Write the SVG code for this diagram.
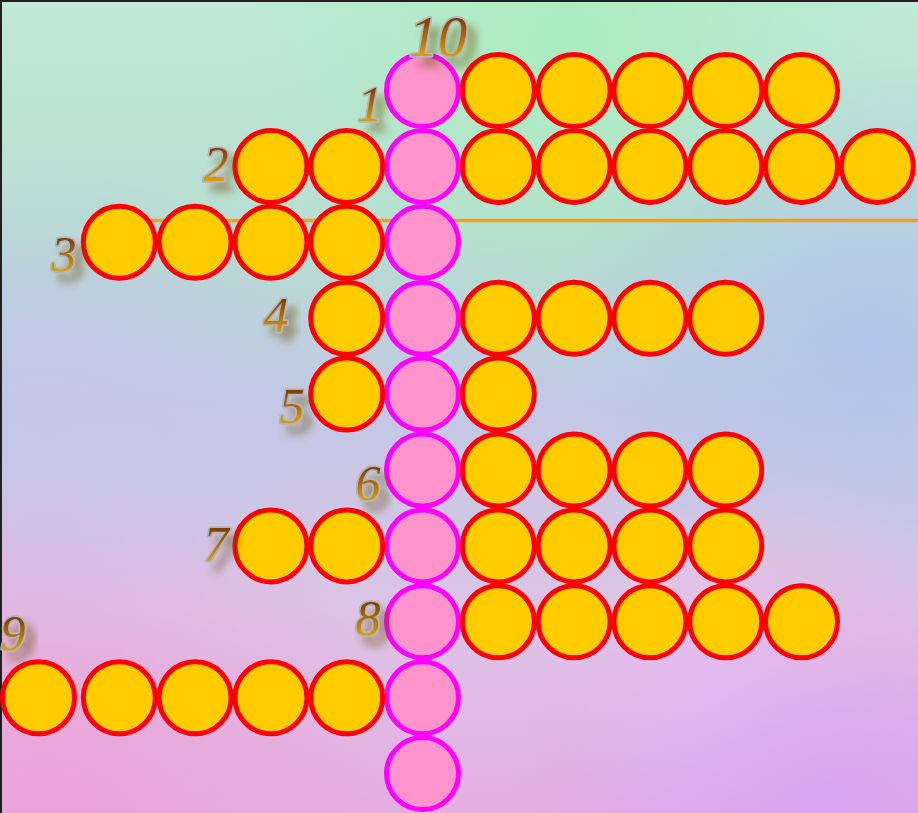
<svg xmlns="http://www.w3.org/2000/svg" width="918" height="813" viewBox="0 0 918 813">
<defs>
<linearGradient id="bgv" x1="0" y1="0" x2="0" y2="1">
<stop offset="0" stop-color="#bfead6"/>
<stop offset="0.3" stop-color="#b8dcd2"/>
<stop offset="0.5" stop-color="#c2c8e4"/>
<stop offset="0.75" stop-color="#dcc4e6"/>
<stop offset="1" stop-color="#e4aee2"/>
</linearGradient>
<radialGradient id="g1" cx="0.62" cy="0.05" r="0.35">
<stop offset="0" stop-color="#a8ecbc" stop-opacity="0.9"/>
<stop offset="1" stop-color="#a8ecbc" stop-opacity="0"/>
</radialGradient>
<radialGradient id="g2" cx="0.95" cy="0.42" r="0.35">
<stop offset="0" stop-color="#b2c4ec" stop-opacity="0.9"/>
<stop offset="1" stop-color="#b2c4ec" stop-opacity="0"/>
</radialGradient>
<radialGradient id="g3" cx="0.05" cy="0.98" r="0.4">
<stop offset="0" stop-color="#eca2d8" stop-opacity="0.9"/>
<stop offset="1" stop-color="#eca2d8" stop-opacity="0"/>
</radialGradient>
<radialGradient id="g4" cx="0.9" cy="1" r="0.35">
<stop offset="0" stop-color="#d8a2f2" stop-opacity="0.9"/>
<stop offset="1" stop-color="#d8a2f2" stop-opacity="0"/>
</radialGradient>
<radialGradient id="g5" cx="0.85" cy="0.78" r="0.2">
<stop offset="0" stop-color="#ecc4dc" stop-opacity="0.8"/>
<stop offset="1" stop-color="#ecc4dc" stop-opacity="0"/>
</radialGradient>
<radialGradient id="g6" cx="0.05" cy="0.5" r="0.3">
<stop offset="0" stop-color="#c4c4ea" stop-opacity="0.8"/>
<stop offset="1" stop-color="#c4c4ea" stop-opacity="0"/>
</radialGradient>
<radialGradient id="g7" cx="0.78" cy="0.85" r="0.18">
<stop offset="0" stop-color="#e6c8f2" stop-opacity="0.8"/>
<stop offset="1" stop-color="#e6c8f2" stop-opacity="0"/>
</radialGradient>
<linearGradient id="tg" x1="0" y1="0" x2="0" y2="1">
<stop offset="0" stop-color="#5a1800"/>
<stop offset="0.5" stop-color="#a86a10"/>
<stop offset="1" stop-color="#ffc000"/>
</linearGradient>
<filter id="sh" x="-50%" y="-50%" width="200%" height="200%">
<feGaussianBlur in="SourceAlpha" stdDeviation="4"/>
<feOffset dx="8" dy="9" result="b"/>
<feFlood flood-color="#6a4a10" flood-opacity="0.5"/>
<feComposite in2="b" operator="in" result="s"/>
<feMerge><feMergeNode in="s"/><feMergeNode in="SourceGraphic"/></feMerge>
</filter>
</defs>
<style>
.y{fill:#ffcc00;stroke:#ff0000;stroke-width:5}
.p{fill:#ff94cc;stroke:#ff00ff;stroke-width:5}
.lbl{font-family:"Liberation Serif",serif;font-style:italic;font-size:50px;fill:url(#tg);stroke:#b4b4b4;stroke-width:3.5;paint-order:stroke;stroke-linejoin:round;text-anchor:middle;filter:url(#sh)}
</style>
<g id="background">
<rect width="918" height="813" fill="url(#bgv)"/>
<rect width="918" height="813" fill="url(#g6)"/>
<rect width="918" height="813" fill="url(#g1)"/>
<rect width="918" height="813" fill="url(#g2)"/>
<rect width="918" height="813" fill="url(#g5)"/>
<rect width="918" height="813" fill="url(#g7)"/>
<rect width="918" height="813" fill="url(#g3)"/>
<rect width="918" height="813" fill="url(#g4)"/>
<path d="M1,813 V1 H918" fill="none" stroke="#202020" stroke-width="2"/>
</g>
<g id="connectors">
<line x1="119" y1="220.5" x2="918" y2="220.5" stroke="#f2a020" stroke-width="3.5"/>
</g>
<g id="column">
<circle class="p" cx="422.5" cy="90.5" r="36"/>
<circle class="p" cx="422.5" cy="166.4" r="36"/>
<circle class="p" cx="422.5" cy="242.3" r="36"/>
<circle class="p" cx="422.5" cy="318.2" r="36"/>
<circle class="p" cx="422.5" cy="394.1" r="36"/>
<circle class="p" cx="422.5" cy="470" r="36"/>
<circle class="p" cx="422.5" cy="545.9" r="36"/>
<circle class="p" cx="422.5" cy="621.8" r="36"/>
<circle class="p" cx="422.5" cy="697.7" r="36"/>
<circle class="p" cx="422.5" cy="773.6" r="36"/>
</g>
<g id="row1">
<circle class="y" cx="498.3" cy="90.5" r="36"/>
<circle class="y" cx="574.1" cy="90.5" r="36"/>
<circle class="y" cx="649.9" cy="90.5" r="36"/>
<circle class="y" cx="725.7" cy="90.5" r="36"/>
<circle class="y" cx="801.5" cy="90.5" r="36"/>
</g>
<g id="row2">
<circle class="y" cx="270.9" cy="166.4" r="36"/>
<circle class="y" cx="346.7" cy="166.4" r="36"/>
<circle class="y" cx="498.3" cy="166.4" r="36"/>
<circle class="y" cx="574.1" cy="166.4" r="36"/>
<circle class="y" cx="649.9" cy="166.4" r="36"/>
<circle class="y" cx="725.7" cy="166.4" r="36"/>
<circle class="y" cx="801.5" cy="166.4" r="36"/>
<circle class="y" cx="877.3" cy="166.4" r="36"/>
</g>
<g id="row3">
<circle class="y" cx="119.3" cy="242.3" r="36"/>
<circle class="y" cx="195.1" cy="242.3" r="36"/>
<circle class="y" cx="270.9" cy="242.3" r="36"/>
<circle class="y" cx="346.7" cy="242.3" r="36"/>
</g>
<g id="row4">
<circle class="y" cx="346.7" cy="318.2" r="36"/>
<circle class="y" cx="498.3" cy="318.2" r="36"/>
<circle class="y" cx="574.1" cy="318.2" r="36"/>
<circle class="y" cx="649.9" cy="318.2" r="36"/>
<circle class="y" cx="725.7" cy="318.2" r="36"/>
</g>
<g id="row5">
<circle class="y" cx="346.7" cy="394.1" r="36"/>
<circle class="y" cx="498.3" cy="394.1" r="36"/>
</g>
<g id="row6">
<circle class="y" cx="498.3" cy="470" r="36"/>
<circle class="y" cx="574.1" cy="470" r="36"/>
<circle class="y" cx="649.9" cy="470" r="36"/>
<circle class="y" cx="725.7" cy="470" r="36"/>
</g>
<g id="row7">
<circle class="y" cx="270.9" cy="545.9" r="36"/>
<circle class="y" cx="346.7" cy="545.9" r="36"/>
<circle class="y" cx="498.3" cy="545.9" r="36"/>
<circle class="y" cx="574.1" cy="545.9" r="36"/>
<circle class="y" cx="649.9" cy="545.9" r="36"/>
<circle class="y" cx="725.7" cy="545.9" r="36"/>
</g>
<g id="row8">
<circle class="y" cx="498.3" cy="621.8" r="36"/>
<circle class="y" cx="574.1" cy="621.8" r="36"/>
<circle class="y" cx="649.9" cy="621.8" r="36"/>
<circle class="y" cx="725.7" cy="621.8" r="36"/>
<circle class="y" cx="801.5" cy="621.8" r="36"/>
</g>
<g id="row9">
<circle class="y" cx="38.5" cy="697.7" r="36"/>
<circle class="y" cx="119.3" cy="697.7" r="36"/>
<circle class="y" cx="195.1" cy="697.7" r="36"/>
<circle class="y" cx="270.9" cy="697.7" r="36"/>
<circle class="y" cx="346.7" cy="697.7" r="36"/>
</g>
<g id="labels">
<text class="lbl" x="438" y="56" style="font-size:58px">10</text>
<text class="lbl" x="370" y="121">1</text>
<text class="lbl" x="216" y="181">2</text>
<text class="lbl" x="64" y="271">3</text>
<text class="lbl" x="276" y="332">4</text>
<text class="lbl" x="292" y="423">5</text>
<text class="lbl" x="368" y="500">6</text>
<text class="lbl" x="216" y="561">7</text>
<text class="lbl" x="368" y="635">8</text>
<text class="lbl" x="13" y="650">9</text>
</g>
</svg>
